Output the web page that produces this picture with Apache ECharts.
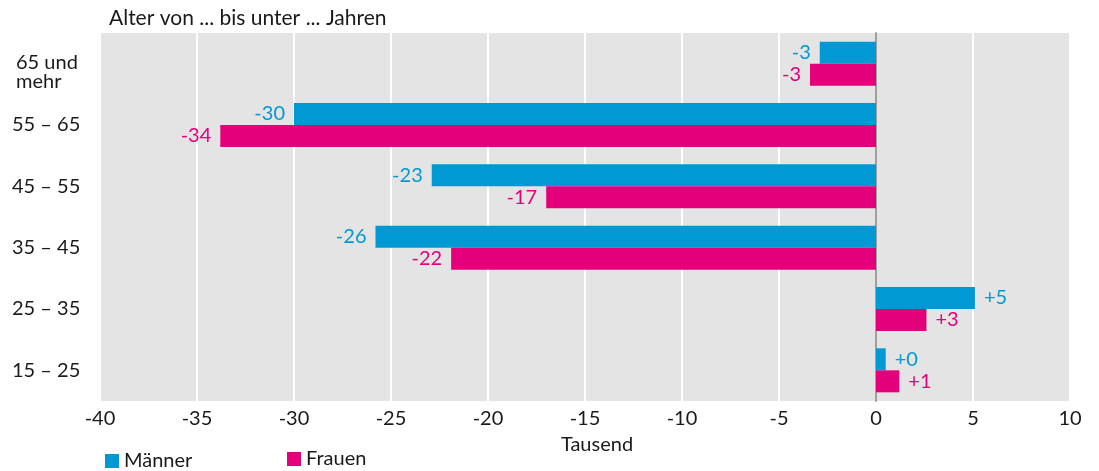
<!DOCTYPE html>
<html>
<head>
<meta charset="utf-8">
<script src="https://cdn.jsdelivr.net/npm/echarts@6/dist/echarts.min.js"></script>
<style>
  html, body { margin: 0; padding: 0; background: #fff; }
  #mychart { width: 1099px; height: 471px; }
</style>
</head>
<body>
<div id="mychart"></div>
<script>
var domchart = document.getElementById("mychart");

// Altersgruppen, von unten nach oben
var ageGroups = ['15 – 25', '25 – 35', '35 – 45', '45 – 55', '55 – 65', '65 und\nmehr'];
// Veränderung in Tausend
var maennerValues = [0.5, 5.1, -25.8, -22.9, -30.0, -2.9];
var frauenValues = [1.2, 2.6, -21.9, -17.0, -33.8, -3.4];
// Beschriftungen wie im Original (gerundet)
var maennerLabels = ['+0', '+5', '-26', '-23', '-30', '-3'];
var frauenLabels = ['+1', '+3', '-22', '-17', '-34', '-3'];

var blue = '#0099d4';
var pink = '#e4007a';
var font = 'Lato';
var fs = 20;

function buildData(values, labels) {
    return values.map(function (v, i) {
        return {
            value: v,
            label: { position: v < 0 ? 'left' : 'right', formatter: labels[i] }
        };
    });
}

var option = {
    animation: false,
    textStyle: { fontFamily: font },
    title: {
        text: 'Alter von ... bis unter ... Jahren',
        left: 104,
        top: 3,
        textStyle: { fontFamily: font, fontSize: fs + 1, fontWeight: 'normal', color: '#1a1a1a' }
    },
    legend: [{
        data: ['Männer'],
        left: 100,
        top: 446,
        itemWidth: 14,
        itemHeight: 14,
        itemGap: 6,
        icon: 'rect',
        textStyle: { fontFamily: font, fontSize: fs, color: '#1a1a1a' }
    }, {
        data: ['Frauen'],
        left: 282,
        top: 444,
        itemWidth: 14,
        itemHeight: 14,
        icon: 'rect',
        textStyle: { fontFamily: font, fontSize: fs, color: '#1a1a1a' }
    }],
    grid: {
        left: 100,
        right: 29,
        top: 33,
        bottom: 70,
        outerBoundsMode: 'none',
        containLabel: false,
        show: true,
        backgroundColor: '#e4e4e4',
        borderWidth: 0
    },
    xAxis: {
        type: 'value',
        min: -40,
        max: 10,
        interval: 5,
        name: 'Tausend',
        nameLocation: 'middle',
        nameGap: 34,
        nameTextStyle: { fontFamily: font, fontSize: fs, color: '#1a1a1a', padding: [0, 0, 0, 24] },
        axisLine: { show: false },
        axisTick: { show: false },
        axisLabel: { fontFamily: font, fontSize: fs, color: '#1a1a1a', margin: 8 },
        splitLine: { lineStyle: { color: '#ffffff', width: 2 } }
    },
    yAxis: {
        type: 'category',
        data: ageGroups,
        axisLine: { show: true, onZero: true, lineStyle: { color: '#a0a0a0', width: 2 } },
        axisTick: { show: false },
        axisLabel: {
            fontFamily: font,
            fontSize: fs,
            color: '#1a1a1a',
            align: 'left',
            margin: 88,
            formatter: function (v) {
                return v.indexOf('\n') >= 0 ? '{two|' + v.replace('\n', '}\n{two|') + '}' : v;
            },
            rich: {
                two: { fontFamily: font, fontSize: fs, color: '#1a1a1a', lineHeight: 19, padding: [16, 0, 0, 4] }
            }
        },
        splitLine: { show: false }
    },
    series: [{
        name: 'Männer',
        type: 'bar',
        barWidth: 22,
        barGap: '0%',
        itemStyle: { color: blue },
        label: { show: true, distance: 9, fontFamily: font, fontSize: fs, color: blue },
        data: buildData(maennerValues, maennerLabels)
    }, {
        name: 'Frauen',
        type: 'bar',
        barWidth: 22,
        barGap: '0%',
        itemStyle: { color: pink },
        label: { show: true, distance: 9, fontFamily: font, fontSize: fs, color: pink },
        data: buildData(frauenValues, frauenLabels)
    }]
};

var chart = echarts.init(domchart);
chart.setOption(option);
</script>
</body>
</html>
